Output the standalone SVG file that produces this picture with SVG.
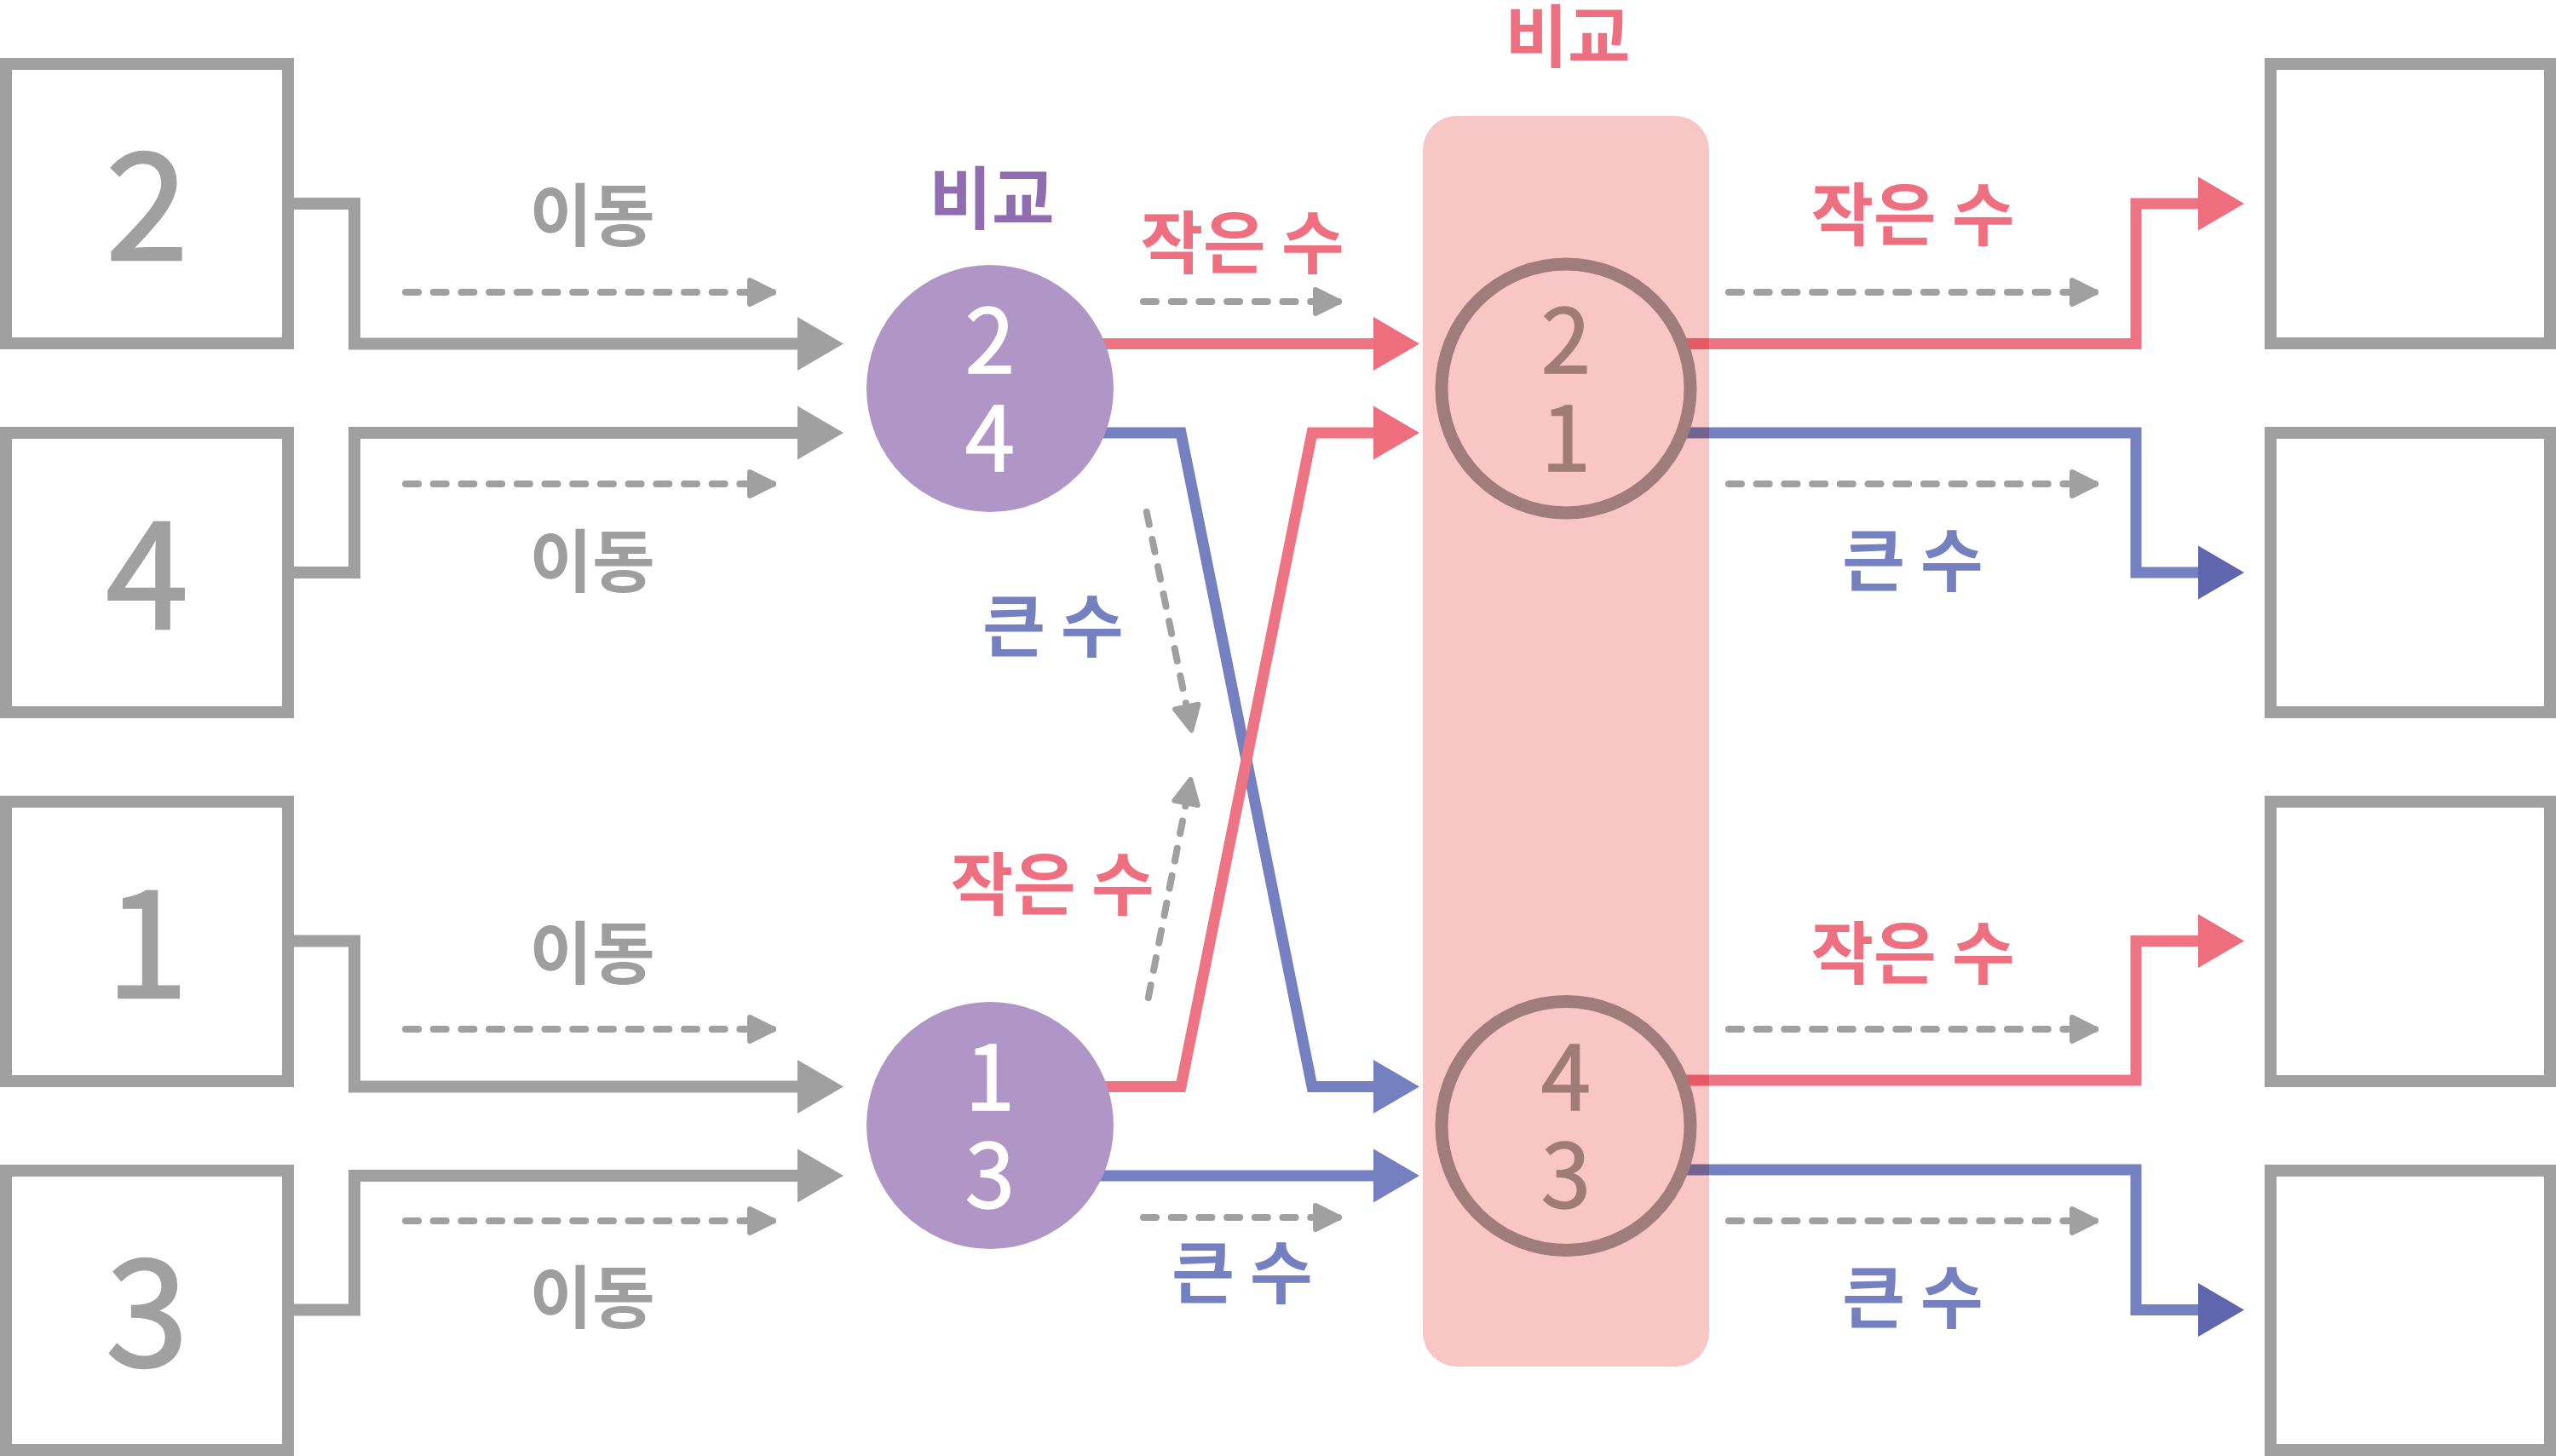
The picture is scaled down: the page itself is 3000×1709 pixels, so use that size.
<svg xmlns="http://www.w3.org/2000/svg" width="3000" height="1709" viewBox="0 0 3000 1709">
<style>
.box{fill:none;stroke:#a0a0a0;stroke-width:14}
.big{font-family:"Noto Sans CJK KR","Noto Sans",sans-serif;font-size:175px;font-weight:400;fill:#a0a0a0;stroke:#a0a0a0;stroke-width:2.5;paint-order:stroke;text-anchor:middle}
.dig{font-family:"Noto Sans CJK KR","Noto Sans",sans-serif;font-size:105px;font-weight:400;stroke-width:1.5;paint-order:stroke;text-anchor:middle}
.lbl{font-family:"Noto Sans CJK KR",sans-serif;font-size:80px;font-weight:700;text-anchor:middle}
.gray{fill:#9e9e9e}
.pink{fill:#ee7080}
.blue{fill:#7480c0}
.purp{fill:#8f6db0}
.gline{fill:none;stroke:#a0a0a0;stroke-width:14;stroke-linejoin:miter}
.rline{fill:none;stroke:#ee7383;stroke-width:13;stroke-linejoin:miter}
.bline{fill:none;stroke:#7580c0;stroke-width:13;stroke-linejoin:miter}
.mul{mix-blend-mode:multiply}
.dash{fill:none;stroke:#a0a0a0;stroke-width:8;stroke-linecap:round;stroke-dasharray:15 17.7}
</style>
<defs>
<marker id="ahG" markerUnits="userSpaceOnUse" orient="auto" refX="0" refY="0" viewBox="0 -32 55 64" markerWidth="55" markerHeight="64" overflow="visible"><path d="M0,-31.5 L54,0 L0,31.5 Z" fill="#a0a0a0"/></marker>
<marker id="ahR" markerUnits="userSpaceOnUse" orient="auto" refX="0" refY="0" viewBox="0 -32 55 64" markerWidth="55" markerHeight="64" overflow="visible"><path d="M0,-31.5 L54,0 L0,31.5 Z" fill="#ee6e7e"/></marker>
<marker id="ahB" markerUnits="userSpaceOnUse" orient="auto" refX="0" refY="0" viewBox="0 -32 55 64" markerWidth="55" markerHeight="64" overflow="visible"><path d="M0,-31.5 L54,0 L0,31.5 Z" fill="#7580c0"/></marker>
<marker id="ahBD" markerUnits="userSpaceOnUse" orient="auto" refX="0" refY="0" viewBox="0 -32 55 64" markerWidth="55" markerHeight="64" overflow="visible"><path d="M0,-31.5 L54,0 L0,31.5 Z" fill="#5f66ae"/></marker>
<marker id="ahD" markerUnits="userSpaceOnUse" orient="auto" refX="0" refY="0" viewBox="-30 -17 34 34" markerWidth="34" markerHeight="34" overflow="visible"><path d="M-27,-14 L1,0 L-27,14 Z" fill="#a0a0a0" stroke="#a0a0a0" stroke-width="6" stroke-linejoin="round"/></marker>
</defs>

<rect width="3000" height="1709" fill="#ffffff"/>

<g id="band">
<rect x="1670" y="136" width="336" height="1468" rx="40" ry="40" fill="#f8c6c4"/>
</g>

<g id="connectors">
<path class="gline" d="M345,239 H416 V403.5 H936" marker-end="url(#ahG)"/>
<path class="gline" d="M345,672 H416 V508 H936" marker-end="url(#ahG)"/>
<path class="gline" d="M345,1104.5 H416 V1275.5 H936" marker-end="url(#ahG)"/>
<path class="gline" d="M345,1537.5 H416 V1380 H936" marker-end="url(#ahG)"/>

<path class="rline" d="M1162,403.5 H1612" marker-end="url(#ahR)"/>
<path class="bline" d="M1162,508 H1386 L1540,1275.5 H1612" marker-end="url(#ahB)"/>
<path class="rline" d="M1162,1275.5 H1386 L1540,508 H1612" marker-end="url(#ahR)"/>
<path class="bline" d="M1162,1380 H1612" marker-end="url(#ahB)"/>

<path class="rline mul" d="M1976,403.5 H2507 V239 H2580" marker-end="url(#ahR)"/>
<path class="bline mul" d="M1976,508 H2507 V672 H2580" marker-end="url(#ahBD)"/>
<path class="rline mul" d="M1976,1268 H2507 V1104.5 H2580" marker-end="url(#ahR)"/>
<path class="bline mul" d="M1976,1373 H2507 V1537.5 H2580" marker-end="url(#ahBD)"/>

<path class="dash" d="M476,343 H907" marker-end="url(#ahD)"/>
<path class="dash" d="M476,568 H907" marker-end="url(#ahD)"/>
<path class="dash" d="M476,1208 H907" marker-end="url(#ahD)"/>
<path class="dash" d="M476,1433 H907" marker-end="url(#ahD)"/>
<path class="dash" d="M1342,354 H1571" marker-end="url(#ahD)"/>
<path class="dash" d="M1342,1429 H1571" marker-end="url(#ahD)"/>
<path class="dash" d="M1345.8,601 L1398.2,856" marker-end="url(#ahD)"/>
<path class="dash" d="M1347.8,1171 L1397.2,916" marker-end="url(#ahD)"/>
<path class="dash" d="M2029,343 H2459" marker-end="url(#ahD)"/>
<path class="dash" d="M2029,568 H2459" marker-end="url(#ahD)"/>
<path class="dash" d="M2029,1208 H2459" marker-end="url(#ahD)"/>
<path class="dash" d="M2029,1433 H2459" marker-end="url(#ahD)"/>
</g>

<g id="in2"><rect class="box" x="7" y="75" width="331" height="328"/><text class="big" x="172.5" y="305">2</text></g>
<g id="in4"><rect class="box" x="7" y="508" width="331" height="328"/><text class="big" x="172.5" y="738">4</text></g>
<g id="in1"><rect class="box" x="7" y="941" width="331" height="328"/><text class="big" x="172.5" y="1171">1</text></g>
<g id="in3"><rect class="box" x="7" y="1374" width="331" height="328"/><text class="big" x="172.5" y="1604">3</text></g>

<g id="out1"><rect class="box" x="2665" y="75" width="328" height="328"/></g>
<g id="out2"><rect class="box" x="2665" y="508" width="328" height="328"/></g>
<g id="out3"><rect class="box" x="2665" y="941" width="328" height="328"/></g>
<g id="out4"><rect class="box" x="2665" y="1374" width="328" height="328"/></g>

<g id="cmpA"><circle cx="1162" cy="456" r="145" fill="#b096c6"/><text class="dig" fill="#ffffff" stroke="#ffffff"><tspan x="1162" y="438">2</tspan><tspan x="1162" y="553">4</tspan></text></g>
<g id="cmpB"><circle cx="1162" cy="1321" r="145" fill="#b096c6"/><text class="dig" fill="#ffffff" stroke="#ffffff"><tspan x="1162" y="1303">1</tspan><tspan x="1162" y="1418">3</tspan></text></g>
<g id="cmpC"><circle cx="1838" cy="456" r="146" fill="none" stroke="#a07d7a" stroke-width="15"/><text class="dig" fill="#a07c79" stroke="#a07c79"><tspan x="1838" y="438">2</tspan><tspan x="1838" y="553">1</tspan></text></g>
<g id="cmpD"><circle cx="1838" cy="1321.5" r="146" fill="none" stroke="#a07d7a" stroke-width="15"/><text class="dig" fill="#a07c79" stroke="#a07c79"><tspan x="1838" y="1303">4</tspan><tspan x="1838" y="1418">3</tspan></text></g>

<g id="labels">
<text class="lbl purp" x="1164" y="262">비교</text>
<text class="lbl pink" x="1840" y="72">비교</text>
<text class="lbl gray" x="695" y="282">이동</text>
<text class="lbl gray" x="695" y="688">이동</text>
<text class="lbl gray" x="695" y="1148">이동</text>
<text class="lbl gray" x="695" y="1552">이동</text>
<text class="lbl pink" x="1458" y="314">작은 수</text>
<text class="lbl blue" x="1458" y="1523">큰 수</text>
<text class="lbl blue" x="1236" y="764">큰 수</text>
<text class="lbl pink" x="1235" y="1067">작은 수</text>
<text class="lbl pink" x="2245" y="281">작은 수</text>
<text class="lbl blue" x="2245" y="687">큰 수</text>
<text class="lbl pink" x="2245" y="1148">작은 수</text>
<text class="lbl blue" x="2245" y="1552">큰 수</text>
</g>
</svg>
